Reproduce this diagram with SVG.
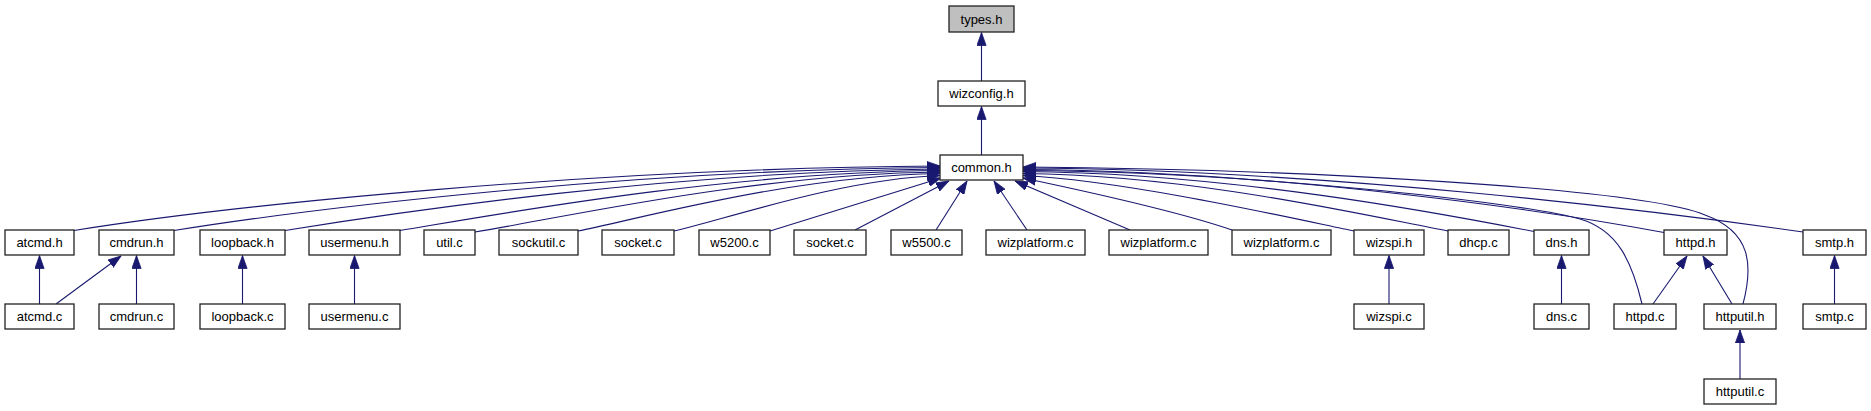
<svg xmlns="http://www.w3.org/2000/svg" width="1871" height="411" viewBox="0 0 1871 411">
<style>
.n rect{fill:#fff;stroke:#222;stroke-width:1.3}
.n text{font-family:"Liberation Sans",Arial,sans-serif;font-size:13px;fill:#000;text-anchor:middle}
#types rect{fill:#bfbfbf}
.e path{fill:none;stroke:#191970;stroke-width:1.1;marker-end:url(#ah)}
</style>
<defs>
<marker id="ah" markerUnits="userSpaceOnUse" markerWidth="14" markerHeight="10" viewBox="0 0 14 10" refX="13" refY="5" orient="auto">
<path d="M0,0.4 L13,5 L0,9.6 Z" fill="#191970" stroke="#191970" stroke-width="0.8"/>
</marker>
</defs>
<rect width="1871" height="411" fill="#fff"/>
<g id="edges" class="e">
<path d="M981.5,81 L981.5,32.5"/>
<path d="M981.5,155 L981.5,106.5"/>
<path d="M74,230.5 C230,205.5 594,168 940,166"/>
<path d="M174,230.5 C312,208.5 634,169.5 940,167.5"/>
<path d="M285,230.5 C403,211.5 678,171 940,169"/>
<path d="M400,230.5 C497,214.5 724,172.5 940,170.5"/>
<path d="M475,232 C559,218.5 754,174 940,172"/>
<path d="M578,231 C643,218 795,175.5 940,173.5"/>
<path d="M674,231 C720,221 840,179 940,175.5"/>
<path d="M770,231 L941,178"/>
<path d="M855,230 L949,181"/>
<path d="M936,230 L967,181"/>
<path d="M1027,230 L994,181"/>
<path d="M1130,230 L1015,181"/>
<path d="M1232,230 C1180,212 1080,190 1023,178"/>
<path d="M1354,231 C1300,220 1130,181 1023,175.5"/>
<path d="M1448,231 C1368,216 1193,175 1023,173.5"/>
<path d="M1534,231.5 C1439,213 1228,173 1023,171.5"/>
<path d="M1664,232.5 C1549,211 1279,171 1023,169.5"/>
<path d="M1803,232 C1663,212 1333,170 1023,168"/>
<path d="M1642,304 C1632,262 1618,230 1580,219 C1520,202 1250,172 1023,170.5"/>
<path d="M1743,304 C1753,266 1752,232 1705,215 C1640,188 1300,169 1023,167"/>
<path d="M39.5,304 L39.5,255.5"/>
<path d="M56,304 L121,256"/>
<path d="M136.5,304 L136.5,255.5"/>
<path d="M242.5,304 L242.5,255.5"/>
<path d="M354.5,304 L354.5,255.5"/>
<path d="M1389,304 L1389,255.5"/>
<path d="M1561.5,304 L1561.5,255.5"/>
<path d="M1653,304 L1687,256"/>
<path d="M1732,304 L1703,256"/>
<path d="M1834.5,304 L1834.5,255.5"/>
<path d="M1740,379 L1740,330"/>
</g>
<g id="types" class="n"><rect x="949" y="6" width="65" height="26"/><text x="981.5" y="23.5">types.h</text></g>
<g id="wizconfig_h" class="n"><rect x="938" y="81" width="87" height="25"/><text x="981.5" y="98">wizconfig.h</text></g>
<g id="common_h" class="n"><rect x="940" y="155" width="83" height="25"/><text x="981.5" y="172">common.h</text></g>
<g id="atcmd_h" class="n"><rect x="5" y="230" width="69" height="25"/><text x="39.5" y="247">atcmd.h</text></g>
<g id="cmdrun_h" class="n"><rect x="99" y="230" width="75" height="25"/><text x="136.5" y="247">cmdrun.h</text></g>
<g id="loopback_h" class="n"><rect x="200" y="230" width="85" height="25"/><text x="242.5" y="247">loopback.h</text></g>
<g id="usermenu_h" class="n"><rect x="309" y="230" width="91" height="25"/><text x="354.5" y="247">usermenu.h</text></g>
<g id="util_c" class="n"><rect x="424" y="230" width="51" height="25"/><text x="449.5" y="247">util.c</text></g>
<g id="sockutil_c" class="n"><rect x="499" y="230" width="79" height="25"/><text x="538.5" y="247">sockutil.c</text></g>
<g id="socket_c_1" class="n"><rect x="602" y="230" width="72" height="25"/><text x="638" y="247">socket.c</text></g>
<g id="w5200_c" class="n"><rect x="699" y="230" width="71" height="25"/><text x="734.5" y="247">w5200.c</text></g>
<g id="socket_c_2" class="n"><rect x="794" y="230" width="72" height="25"/><text x="830" y="247">socket.c</text></g>
<g id="w5500_c" class="n"><rect x="891" y="230" width="71" height="25"/><text x="926.5" y="247">w5500.c</text></g>
<g id="wizplatform_c_1" class="n"><rect x="986" y="230" width="99" height="25"/><text x="1035.5" y="247">wizplatform.c</text></g>
<g id="wizplatform_c_2" class="n"><rect x="1109" y="230" width="99" height="25"/><text x="1158.5" y="247">wizplatform.c</text></g>
<g id="wizplatform_c_3" class="n"><rect x="1232" y="230" width="99" height="25"/><text x="1281.5" y="247">wizplatform.c</text></g>
<g id="wizspi_h" class="n"><rect x="1354" y="230" width="70" height="25"/><text x="1389" y="247">wizspi.h</text></g>
<g id="dhcp_c" class="n"><rect x="1448" y="230" width="61" height="25"/><text x="1478.5" y="247">dhcp.c</text></g>
<g id="dns_h" class="n"><rect x="1534" y="230" width="55" height="25"/><text x="1561.5" y="247">dns.h</text></g>
<g id="httpd_h" class="n"><rect x="1664" y="230" width="63" height="25"/><text x="1695.5" y="247">httpd.h</text></g>
<g id="smtp_h" class="n"><rect x="1803" y="230" width="63" height="25"/><text x="1834.5" y="247">smtp.h</text></g>
<g id="atcmd_c" class="n"><rect x="5" y="304" width="69" height="25"/><text x="39.5" y="321">atcmd.c</text></g>
<g id="cmdrun_c" class="n"><rect x="99" y="304" width="75" height="25"/><text x="136.5" y="321">cmdrun.c</text></g>
<g id="loopback_c" class="n"><rect x="200" y="304" width="85" height="25"/><text x="242.5" y="321">loopback.c</text></g>
<g id="usermenu_c" class="n"><rect x="309" y="304" width="91" height="25"/><text x="354.5" y="321">usermenu.c</text></g>
<g id="wizspi_c" class="n"><rect x="1354" y="304" width="70" height="25"/><text x="1389" y="321">wizspi.c</text></g>
<g id="dns_c" class="n"><rect x="1534" y="304" width="55" height="25"/><text x="1561.5" y="321">dns.c</text></g>
<g id="httpd_c" class="n"><rect x="1614" y="304" width="62" height="25"/><text x="1645" y="321">httpd.c</text></g>
<g id="httputil_h" class="n"><rect x="1704" y="304" width="72" height="25"/><text x="1740" y="321">httputil.h</text></g>
<g id="smtp_c" class="n"><rect x="1803" y="304" width="63" height="25"/><text x="1834.5" y="321">smtp.c</text></g>
<g id="httputil_c" class="n"><rect x="1704" y="379" width="72" height="25"/><text x="1740" y="396">httputil.c</text></g>
</svg>
